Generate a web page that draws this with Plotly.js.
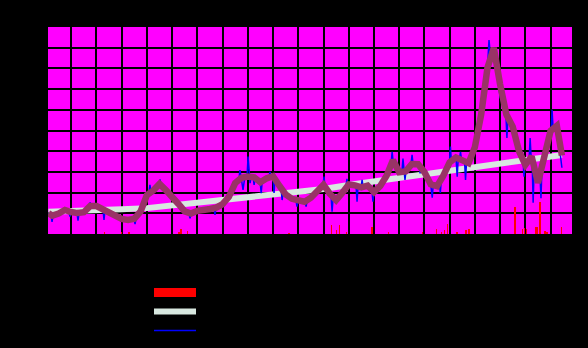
<!DOCTYPE html>
<html>
<head>
<meta charset="utf-8">
<script src="https://cdn.plot.ly/plotly-3.0.1.min.js"></script>
<style>html,body{margin:0;padding:0;background:#000;}#chart{width:588px;height:348px;}</style>
</head>
<body>
<div id="chart"></div>
<script>
// Smoothed series (quarterly samples, years)
const smoothX = [1999.1,1999.25,1999.5,1999.75,2000,2000.25,2000.5,2000.75,2001,2001.25,2001.5,2001.75,2002,2002.25,2002.5,2002.75,2003,2003.25,2003.5,2003.75,2004,2004.25,2004.5,2004.75,2005,2005.25,2005.5,2005.75,2006,2006.25,2006.5,2006.75,2007,2007.25,2007.5,2007.75,2008,2008.25,2008.5,2008.75,2009,2009.25,2009.5,2009.75,2010,2010.25,2010.5,2010.75,2011,2011.25,2011.5,2011.75,2012,2012.25,2012.5,2012.75,2013,2013.25,2013.5,2013.75,2014,2014.25,2014.5,2014.75,2015,2015.25,2015.5,2015.75,2016,2016.25,2016.5,2016.75,2017,2017.25,2017.5,2017.75,2018,2018.25,2018.5,2018.75,2019,2019.25,2019.45];
const smoothY = [1.00,0.89,0.99,1.16,1.06,1.01,1.05,1.35,1.35,1.20,1.10,0.91,0.73,0.68,0.74,1.09,1.88,2.10,2.42,2.12,1.72,1.45,1.09,0.99,1.12,1.20,1.21,1.27,1.44,1.80,2.46,2.72,2.78,2.74,2.50,2.69,2.79,2.33,1.91,1.70,1.59,1.56,1.75,2.03,2.38,1.95,1.63,1.99,2.39,2.35,2.25,2.34,2.02,2.32,2.81,3.57,2.98,3.02,3.38,3.37,2.99,2.40,2.31,2.82,3.46,3.70,3.60,3.42,4.20,5.78,8.03,8.99,7.23,5.77,5.19,4.00,3.34,3.75,2.47,3.71,4.98,5.23,3.79];

// Raw series
const rawX = [1999.10,1999.20,1999.24,1999.28,1999.50,1999.75,1999.91,1999.95,1999.99,2000.23,2000.27,2000.31,2000.50,2000.71,2000.75,2000.79,2001.00,2001.26,2001.30,2001.34,2001.50,2001.75,2001.93,2001.97,2002.01,2002.25,2002.49,2002.53,2002.57,2002.75,2002.92,2003.08,2003.12,2003.16,2003.25,2003.48,2003.52,2003.56,2003.75,2003.92,2004.00,2004.25,2004.50,2004.67,2004.71,2004.75,2005.00,2005.25,2005.50,2005.66,2005.70,2005.74,2006.00,2006.25,2006.50,2006.65,2006.69,2006.73,2006.81,2006.88,2006.97,2007.01,2007.05,2007.09,2007.13,2007.21,2007.25,2007.29,2007.49,2007.53,2007.57,2007.75,2007.84,2007.88,2007.92,2008.00,2008.04,2008.08,2008.25,2008.32,2008.36,2008.40,2008.50,2008.75,2008.91,2008.95,2008.99,2009.27,2009.31,2009.35,2009.50,2009.75,2009.98,2010.02,2010.06,2010.25,2010.30,2010.34,2010.38,2010.50,2010.75,2010.89,2010.93,2010.97,2011.25,2011.29,2011.33,2011.37,2011.49,2011.53,2011.57,2011.75,2011.92,2011.96,2012.00,2012.25,2012.28,2012.32,2012.36,2012.50,2012.68,2012.72,2012.76,2013.00,2013.11,2013.15,2013.19,2013.23,2013.27,2013.47,2013.51,2013.55,2013.75,2013.79,2013.83,2013.87,2014.00,2014.25,2014.31,2014.35,2014.50,2014.59,2014.63,2014.67,2014.75,2014.99,2015.03,2015.07,2015.25,2015.30,2015.34,2015.39,2015.43,2015.47,2015.59,2015.63,2015.67,2015.75,2015.87,2015.91,2015.95,2016.25,2016.50,2016.56,2016.62,2016.75,2017.00,2017.23,2017.27,2017.31,2017.50,2017.75,2017.91,2017.95,2017.99,2018.15,2018.19,2018.23,2018.27,2018.31,2018.35,2018.50,2018.58,2018.62,2018.66,2018.75,2019.02,2019.06,2019.10,2019.25,2019.45];
const rawY = [1.00,0.92,0.59,0.90,0.99,1.16,1.07,0.84,1.06,1.01,0.64,1.02,1.05,1.33,1.52,1.36,1.35,1.19,0.68,1.16,1.10,0.91,0.77,0.59,0.73,0.68,0.74,0.48,0.76,1.09,1.80,2.00,2.37,2.05,2.10,2.40,2.64,2.38,2.12,1.78,1.72,1.45,1.09,1.00,0.76,0.99,1.12,1.20,1.21,1.25,0.92,1.27,1.44,1.80,2.46,2.66,3.09,2.70,2.13,2.75,2.78,3.74,2.78,2.46,2.77,2.75,2.37,2.72,2.52,1.97,2.52,2.69,2.74,3.00,2.75,2.79,1.98,2.70,2.33,2.15,1.64,2.05,1.91,1.70,1.62,1.32,1.60,1.57,1.32,1.60,1.75,2.03,2.36,2.77,2.30,1.95,1.85,1.08,1.75,1.63,1.99,2.30,2.66,2.38,2.35,2.34,1.56,2.32,2.26,2.61,2.25,2.34,2.10,1.56,2.02,2.32,2.40,2.61,2.50,2.81,3.40,3.97,3.50,2.98,3.00,3.65,3.00,2.61,3.05,3.36,3.82,3.38,3.37,3.30,2.93,3.20,2.99,2.40,1.75,2.38,2.31,2.50,1.99,2.60,2.82,3.44,4.22,3.50,3.70,2.77,3.68,3.65,3.97,3.62,3.52,2.61,3.48,3.42,3.85,4.14,3.95,5.78,8.03,9.37,8.60,8.99,6.63,5.80,4.64,5.60,5.19,4.00,3.50,2.77,3.40,3.60,4.64,3.70,3.50,1.51,3.20,2.47,2.90,1.73,3.20,3.71,5.00,6.00,5.10,5.23,3.20];

// Trend
const trendX = [1999.1,2000,2001,2002,2003,2004,2005,2006,2007,2008,2009,2010,2011,2012,2013,2014,2015,2016,2017,2018,2019,2019.45];
const trendY = [1.08,1.10,1.14,1.20,1.25,1.38,1.55,1.67,1.81,1.91,2.00,2.17,2.37,2.54,2.73,2.86,3.04,3.22,3.41,3.59,3.75,3.82];

// Bars
const barX = [2001.31,2002.00,2002.30,2004.27,2004.35,2004.60,2008.64,2010.31,2010.51,2010.63,2010.92,2011.93,2012.57,2013.93,2014.48,2014.68,2014.79,2014.91,2015.30,2015.64,2015.77,2017.59,2017.88,2017.96,2018.05,2018.42,2018.49,2018.59,2018.78,2018.85,2019.43];
const barY = [0.10,0.08,0.08,0.10,0.24,0.14,0.07,0.43,0.19,0.43,0.10,0.34,0.10,0.10,0.22,0.08,0.19,0.48,0.10,0.19,0.24,1.30,0.24,0.29,0.24,0.34,0.34,1.55,0.14,0.10,0.34];

const names = ["Volume","Trend","Daily","Smoothed"];

const traces = [
  {type:'bar', x:barX, y:barY, width:0.06, marker:{color:'#ff0000', line:{width:0}}, name:names[0], legendgroup:'b', showlegend:false},
  {type:'scatter', mode:'lines', x:[null], y:[null], line:{color:'#ff0000', width:9}, name:names[0], legendgroup:'b', hoverinfo:'skip'},
  {type:'scatter', mode:'lines', x:trendX, y:trendY, line:{color:'#d8e8e0', width:6}, name:names[1]},
  {type:'scatter', mode:'lines', x:rawX, y:rawY, line:{color:'#0000ff', width:1.5}, name:names[2]},
  {type:'scatter', mode:'lines', x:smoothX, y:smoothY, line:{color:'#993366', width:6.5}, name:names[3], showlegend:false}
];

const layout = {
  width:588, height:348,
  paper_bgcolor:'#000000', plot_bgcolor:'#ff00ff',
  margin:{l:48, r:16, t:27, b:114, autoexpand:false},
  font:{family:'DejaVu Sans', size:11, color:'#000000'},
  xaxis:{range:[1999.08,2019.85], tick0:2000, dtick:1, showgrid:true, gridcolor:'#000000', gridwidth:2, zeroline:false, showline:false, ticks:'', tickfont:{color:'#000000'}, automargin:false},
  yaxis:{range:[0,10], dtick:1, showgrid:true, gridcolor:'#000000', gridwidth:2, zeroline:false, showline:false, ticks:'', tickfont:{color:'#000000'}, automargin:false},
  showlegend:true,
  legend:{xref:'container', yref:'container', x:149/588, y:1-278/348, xanchor:'left', yanchor:'top', bgcolor:'rgba(0,0,0,0)', itemwidth:42, font:{color:'#000000', size:12}, tracegroupgap:0},
  bargap:0
};

Plotly.newPlot('chart', traces, layout, {staticPlot:true, displayModeBar:false});
</script>
</body>
</html>
